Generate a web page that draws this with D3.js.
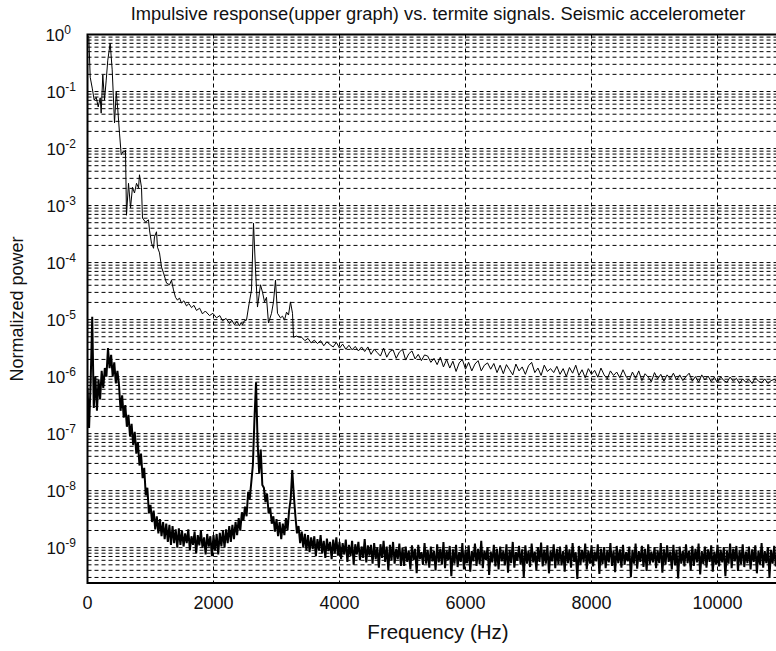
<!DOCTYPE html>
<html>
<head>
<meta charset="utf-8">
<script src="https://cdn.jsdelivr.net/npm/d3@7"></script>
<style>
  body { margin: 0; background: #fff; }
  svg { display: block; font-family: "Liberation Sans", Arial, Helvetica, sans-serif; }
</style>
</head>
<body>
<svg width="776" height="651"></svg>
<script>
// impulsive response, low frequency part: [Hz, log10(power)]
const upperHead = [
  [0,-0.02],[21,-0.05],[43,-0.75],[75,-0.94],[106,-1.15],[138,-1.10],[170,-1.27],[202,-1.11],
  [217,-1.38],[243,-0.71],[270,-1.15],[297,-0.80],[322,-0.45],[360,-0.15],[392,-0.62],[429,-1.55],
  [456,-1.01],[481,-1.32],[508,-1.73],[535,-2.11],[560,-2.06],[587,-2.06],[603,-2.03],[619,-3.17],
  [651,-2.61],[683,-3.04],[714,-2.68],[746,-2.78],[778,-2.61],[810,-2.69],[825,-2.46],[857,-2.68],
  [873,-3.22],[921,-3.29],[968,-3.25],[984,-3.43],[1016,-3.66],[1048,-3.75],[1063,-3.55],[1095,-3.46],
  [1111,-3.73],[1143,-3.83],[1175,-4.08],[1206,-4.18],[1254,-4.36],[1302,-4.39],[1333,-4.31],[1365,-4.48],
  [1397,-4.61],[1429,-4.66],[1460,-4.62],[1492,-4.71],[1530,-4.67],[1571,-4.76],[1610,-4.72],[1651,-4.79],
  [1690,-4.75],[1730,-4.84],[1780,-4.80],[1825,-4.90],[1870,-4.85],[1937,-4.93],[1990,-4.89],[2048,-4.97],
  [2100,-4.93],[2143,-5.02],[2200,-4.98],[2254,-5.07],[2290,-5.01],[2333,-5.09],[2370,-5.03],[2413,-5.11],
  [2440,-5.05],[2460,-5.09],[2490,-5.02],[2524,-5.01],[2556,-4.78],[2603,-4.48],[2635,-3.31],[2667,-4.13],
  [2698,-4.78],[2746,-4.39],[2778,-4.52],[2810,-4.69],[2841,-4.61],[2873,-5.06],[2921,-4.89],[2952,-4.69],
  [2984,-4.31],[3016,-4.89],[3063,-4.97],[3095,-4.94],[3127,-5.01],[3159,-4.87],[3190,-4.92],[3222,-4.69],
  [3254,-4.89],[3270,-5.31],[3317,-5.29],[3365,-5.31]
];

// impulsive response, tail: log10(power) every 50 Hz from 3400 Hz
const upperTailStart = 3400, upperTailStep = 50;
const upperTail = [
  -5.31,-5.37,-5.33,-5.41,-5.36,-5.42,-5.37,-5.46,-5.39,-5.44,-5.48,-5.40,-5.50,-5.43,-5.52,-5.45,-5.53,-5.47,-5.55,-5.48,
  -5.56,-5.48,-5.61,-5.52,-5.58,-5.64,-5.50,-5.66,-5.56,-5.53,-5.68,-5.57,-5.52,-5.71,-5.60,-5.55,-5.69,-5.61,-5.72,-5.62,
  -5.64,-5.75,-5.68,-5.79,-5.66,-5.83,-5.70,-5.85,-5.73,-5.91,-5.76,-5.70,-5.87,-5.75,-5.90,-5.78,-5.72,-5.90,-5.80,-5.76,
  -5.87,-5.77,-5.93,-5.80,-5.95,-5.79,-5.88,-5.97,-5.78,-5.90,-5.83,-5.96,-5.81,-5.75,-5.93,-5.85,-5.98,-5.80,-5.91,-5.86,
  -5.93,-5.82,-5.96,-5.86,-6.00,-5.84,-5.94,-5.80,-5.98,-5.88,-6.02,-5.86,-5.96,-5.89,-6.01,-5.85,-5.97,-6.04,-5.90,-5.98,
  -5.92,-6.02,-5.88,-6.00,-6.06,-5.92,-6.03,-5.90,-6.07,-5.95,-6.01,-6.09,-5.93,-6.04,-5.96,-6.08,-5.97,-6.04,-5.94,-6.06,
  -5.97,-6.07,-6.00,-5.94,-6.08,-6.00,-6.10,-5.97,-6.06,-5.99,-6.09,-6.01,-6.11,-6.00,-6.07,-6.10,-6.01,-6.08,-6.03,-6.12,
  -6.04,-6.10,-6.05,-6.12,-6.02,-6.08,-6.11,-6.04,-6.12,-6.07,-6.05,-6.10,-6.06
];

// termite signals: log10(power) every 25 Hz from 0 Hz
const lowerStep = 25;
const lowerLog = [
  -6.20,-6.90,-6.10,-4.95,-6.55,-6.00,-6.60,-6.05,-6.40,-5.90,-6.20,-5.85,-6.00,-5.50,-5.85,-5.62,-6.00,-5.75,-6.12,-5.90,
  -6.15,-6.60,-6.33,-6.72,-6.50,-6.88,-6.67,-7.05,-6.83,-7.20,-6.97,-7.35,-7.15,-7.56,-7.35,-7.78,-7.60,-8.08,-7.95,-8.40,
  -8.25,-8.55,-8.35,-8.68,-8.45,-8.75,-8.50,-8.80,-8.55,-8.85,-8.58,-8.90,-8.60,-8.95,-8.62,-8.92,-8.68,-9.00,-8.66,-8.95,
  -8.70,-8.98,-8.75,-8.92,-8.68,-9.05,-8.80,-8.95,-8.72,-9.10,-8.78,-8.96,-8.70,-9.00,-8.82,-9.12,-8.76,-8.98,-8.80,-9.15,
  -8.78,-9.05,-8.76,-9.12,-8.74,-8.98,-8.70,-9.00,-8.68,-8.92,-8.62,-8.90,-8.60,-8.85,-8.55,-8.78,-8.48,-8.70,-8.38,-8.52,
  -8.28,-8.45,-8.02,-8.15,-7.85,-7.55,-6.75,-6.10,-7.15,-7.70,-7.28,-7.90,-7.95,-8.20,-8.05,-8.40,-8.30,-8.58,-8.45,-8.72,
  -8.50,-8.80,-8.55,-8.85,-8.58,-8.78,-8.48,-8.70,-8.35,-8.15,-7.64,-8.08,-8.45,-8.75,-8.62,-8.92,-8.72,-9.00,-8.76,-9.05,
  -8.78,-9.08,-8.82,-9.02,-8.80,-9.15,-8.85,-9.05,-8.78,-9.10,-8.88,-9.18,-8.84,-9.06,-8.90,-9.20,-8.86,-9.10,-8.82,-9.14,
  -8.90,-9.20,-8.92,-9.12,-8.86,-9.25,-8.95,-9.15,-8.88,-9.30,-8.94,-9.12,-8.90,-9.22,-8.98,-9.18,-8.85,-9.26,-8.96,-9.14,
  -8.95,-9.28,-8.92,-9.20,-9.00,-9.35,-8.94,-9.18,-8.88,-9.25,-8.98,-9.40,-8.95,-9.22,-8.90,-9.28,-9.02,-9.20,-8.93,-9.32,
  -9.00,-9.32,-8.98,-9.25,-9.05,-9.38,-8.96,-9.22,-9.02,-9.45,-8.95,-9.20,-9.08,-9.30,-8.92,-9.28,-9.04,-9.35,-8.98,-9.24,
  -9.06,-9.40,-8.94,-9.26,-9.02,-9.30,-8.90,-9.36,-9.05,-9.22,-8.97,-9.50,-9.03,-9.28,-8.95,-9.34,-9.08,-9.25,-8.92,-9.38,
  -9.04,-9.27,-8.96,-9.42,-9.06,-9.24,-8.93,-9.32,-9.02,-9.29,-8.88,-9.36,-9.05,-9.22,-8.99,-9.48,-9.07,-9.26,-8.95,-9.33,
  -9.02,-9.38,-8.98,-9.24,-9.06,-9.31,-8.94,-9.44,-9.04,-9.27,-8.90,-9.35,-9.08,-9.23,-8.97,-9.30,-9.03,-9.52,-8.96,-9.28,
  -9.05,-9.34,-8.93,-9.26,-9.07,-9.40,-8.99,-9.25,-8.91,-9.33,-9.04,-9.28,-8.96,-9.45,-9.06,-9.24,-8.94,-9.36,-9.02,-9.29,
  -8.98,-9.31,-9.06,-9.42,-8.95,-9.27,-9.03,-9.35,-8.92,-9.25,-9.08,-9.55,-8.97,-9.30,-9.04,-9.26,-8.93,-9.38,-9.05,-9.28,
  -8.96,-9.33,-9.07,-9.24,-8.94,-9.46,-9.02,-9.29,-8.99,-9.36,-9.05,-9.26,-8.92,-9.32,-9.06,-9.43,-8.97,-9.27,-9.03,-9.35,
  -8.95,-9.30,-9.08,-9.24,-8.98,-9.52,-9.04,-9.28,-8.93,-9.37,-9.06,-9.25,-8.97,-9.34,-9.02,-9.41,-8.94,-9.29,-9.07,-9.26,
  -8.99,-9.36,-9.05,-9.27,-8.92,-9.44,-9.03,-9.30,-8.96,-9.25,-9.07,-9.38,-8.95,-9.31,-9.04,-9.54,-8.98,-9.28,-9.06,-9.33,
  -8.94,-9.27,-9.05,-9.40,-8.97,-9.32,-9.02,-9.26,-8.93,-9.47,-9.06,-9.29,-8.98,-9.35,-9.03,-9.25,-8.96,-9.42,-9.07,-9.30,
  -8.95,-9.33,-9.04,-9.26,-8.99,-9.50,-9.06,-9.28,-8.93,-9.36,-9.02,-9.24,-8.97,-9.41,-9.05,-9.29,-8.94,-9.34,-9.07,-9.27,
  -8.98,-9.38,-9.03,-9.25,-8.96,-9.45,-9.05,-9.30,-8.92,-9.35,-9.06,-9.27,-8.99,-9.52,-9.04,-9.28,-8.97,-9.33,-9.02,-9.26
];

const xTicks = [0, 2000, 4000, 6000, 8000, 10000];
const yDecades = [0, -1, -2, -3, -4, -5, -6, -7, -8, -9];

const title = "Impulsive response(upper graph) vs. termite signals. Seismic accelerometer";
const xTitle = "Frequency (Hz)";
const yTitle = "Normalized power";

const svg = d3.select("svg"),
    width = +svg.attr("width"),
    height = +svg.attr("height");

const plotLeft = 87.5, plotTop = 34.5, plotBottom = 583;

const x = d3.scaleLinear().domain([0, 11025]).range([plotLeft, plotLeft + 11025 * 0.063]);
const y = d3.scaleLog().domain([Math.pow(10, -9.62), 1]).range([plotBottom, plotTop]);

const upper = upperHead.map(d => ({f: d[0], p: Math.pow(10, d[1])}))
    .concat(upperTail.map((v, i) => ({f: upperTailStart + i * upperTailStep, p: Math.pow(10, v)})));
const lower = lowerLog.map((v, i) => ({f: i * lowerStep, p: Math.pow(10, v)}));

svg.append("defs").append("clipPath").attr("id", "plot")
    .append("rect")
    .attr("x", plotLeft).attr("y", plotTop)
    .attr("width", width - plotLeft).attr("height", plotBottom - plotTop);

// grid
const grid = svg.append("g")
    .attr("stroke", "#000")
    .attr("stroke-width", 1)
    .attr("stroke-dasharray", "4,3")
    .attr("fill", "none");

grid.selectAll("line.h")
    .data(y.ticks(100))
    .join("line")
    .attr("class", "h")
    .attr("x1", plotLeft).attr("x2", width)
    .attr("y1", d => y(d)).attr("y2", d => y(d));

grid.selectAll("line.v")
    .data(xTicks.filter(d => d > 0))
    .join("line")
    .attr("class", "v")
    .attr("x1", d => x(d)).attr("x2", d => x(d))
    .attr("y1", plotTop).attr("y2", plotBottom);

// series
const line = d3.line()
    .x(d => x(d.f))
    .y(d => y(d.p));

const series = svg.append("g").attr("clip-path", "url(#plot)").attr("fill", "none").attr("stroke", "#000");

series.append("path")
    .datum(lower)
    .attr("stroke-width", 2)
    .attr("d", line);

series.append("path")
    .datum(upper)
    .attr("stroke-width", 1)
    .attr("d", line);

// frame
svg.append("path")
    .attr("fill", "none")
    .attr("stroke", "#000")
    .attr("stroke-width", 2)
    .attr("d", `M${width},${plotTop}H${plotLeft}V${plotBottom}H${width}`);

// y tick labels
const yLab = svg.append("g")
    .attr("font-size", 17)
    .attr("text-anchor", "end")
    .attr("fill", "#111");

yDecades.forEach(k => {
    const t = yLab.append("text")
        .attr("x", k === 0 ? 71 : 76)
        .attr("y", y(Math.pow(10, k)) + 6);
    t.append("tspan").text("10");
    t.append("tspan")
        .attr("font-size", 12)
        .attr("dy", -7)
        .text(k);
});

// x tick labels
svg.append("g")
    .attr("font-size", 18)
    .attr("text-anchor", "middle")
    .attr("fill", "#111")
    .selectAll("text")
    .data(xTicks)
    .join("text")
    .attr("x", d => x(d))
    .attr("y", 609)
    .text(d => d);

svg.append("text")
    .attr("x", 438)
    .attr("y", 639)
    .attr("font-size", 20.5)
    .attr("text-anchor", "middle")
    .attr("fill", "#111")
    .text(xTitle);

svg.append("text")
    .attr("transform", "translate(23,309) rotate(-90)")
    .attr("font-size", 18)
    .attr("text-anchor", "middle")
    .attr("fill", "#111")
    .text(yTitle);

svg.append("text")
    .attr("x", 438)
    .attr("y", 20)
    .attr("font-size", 18.3)
    .attr("text-anchor", "middle")
    .attr("fill", "#111")
    .text(title);
</script>
</body>
</html>
